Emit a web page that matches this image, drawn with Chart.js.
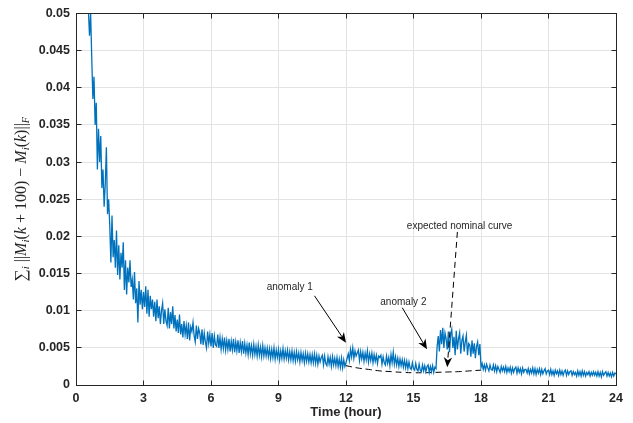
<!DOCTYPE html>
<html>
<head>
<meta charset="utf-8">
<script src="https://cdn.jsdelivr.net/npm/chart.js@4.4.1/dist/chart.umd.min.js"></script>
<style>
  body { margin: 0; background: #fff; }
</style>
</head>
<body>
<canvas id="chart" width="633" height="423"></canvas>
<script>
// sampling of the measured curve (hours)
const startHour = 0.5;
const stepHour = 0.05;

// measured sum of Frobenius differences, in units of 1e-4, one row per hour
const seriesValues = [
  560,505,470,500,440,385,415,350,380,290,345,300,335,265,290,240,270,320,230,250,
  215,165,228,172,195,158,208,148,188,142,178,158,192,128,168,122,158,138,168,132,
  142,115,152,110,130,84,140,108,128,102,125,105,133,96,128,92,120,102,115,92,
  112,86,115,90,106,82,100,110,82,102,86,80,104,76,98,82,106,76,94,72,
  88,70,95,68,82,64,86,68,80,62,84,60,78,72,84,66,58,80,62,76,
  70,55,75,54,70,58,50,72,56,68,52,70,50,66,54,52,68,50,64,48,
  62,49,64,47,60,48,62,45,59,47,62,44,58,46,60,43,57,45,59,42,
  56,43,54,41,57,42,53,40,55,41,52,39,54,40,51,38,53,39,50,39,
  50,38,49,36,48,37,50,35,47,37,48,34,46,36,49,35,46,36,47,34,
  45,34,46,33,44,32,45,34,43,31,44,33,42,30,43,32,42,31,41,30,
  41,30,42,29,40,28,39,31,37,40,27,39,29,26,38,28,37,25,38,27,
  36,26,37,25,35,24,36,23,34,25,30,36,42,33,48,38,50,36,46,39,
  43,47,33,45,35,44,32,43,34,46,31,42,33,43,30,41,32,40,29,39,
  37,40,28,38,30,27,39,29,37,26,41,30,44,28,38,27,36,25,35,26,
  34,24,33,23,32,22,31,23,21,30,22,20,29,21,19,28,20,18,27,19,
  26,18,25,27,17,25,18,26,17,24,22,52,66,45,74,55,77,50,70,62,
  48,72,44,68,75,50,65,40,73,48,62,70,42,60,66,45,58,67,40,56,
  54,38,60,42,56,36,52,58,40,55,
  24,29,21,27,20,28,23,19,27,21,20,27,19,26,18,25,21,17,25,19,
  24,18,25,17,23,18,24,16,23,17,22,24,16,23,17,22,15,23,17,21,
  21,16,22,15,21,16,23,15,22,14,21,16,22,14,21,15,19,22,15,19,
  20,14,21,14,19,13,20,15,19,13,20,14,19,13,18,20,13,19,14,18,
  19,13,18,14,17,12,19,13,18,12,19,13,18,12,17,14,18,12,17,13,
  18,13,17,12,18,12,17,11,18,13,16,18,12,17,12,16,11,17,12,16,15
];

// expected nominal curve (dashed)
const nominalHours = [12, 12.5, 13, 13.5, 14, 14.5, 15, 15.5, 16, 16.5, 17, 17.5, 18];
const nominalValues = [0.0026, 0.0023, 0.0021, 0.0019, 0.0018, 0.0017, 0.00165, 0.00165, 0.0017, 0.00175, 0.0018, 0.0019, 0.002];

const xTickValues = [0, 3, 6, 9, 12, 15, 18, 21, 24];
const xTickLabels = ['0', '3', '6', '9', '12', '15', '18', '21', '24'];
const yTickValues = [0, 0.005, 0.01, 0.015, 0.02, 0.025, 0.03, 0.035, 0.04, 0.045, 0.05];
const yTickLabels = ['0', '0.005', '0.01', '0.015', '0.02', '0.025', '0.03', '0.035', '0.04', '0.045', '0.05'];

// text arrows: label position, arrow tail, arrow tip (data coords)
const annotations = [
  { text: 'anomaly 1', at: [9.5, 0.0131], from: [10.6, 0.012], to: [12.0, 0.0057], dashed: false },
  { text: 'anomaly 2', at: [14.55, 0.0111], from: [14.5, 0.0104], to: [15.6, 0.0048], dashed: false },
  { text: 'expected nominal curve', at: [17.05, 0.0213], from: [16.95, 0.0206], to: [16.5, 0.0024], dashed: true }
];

const axisColor = '#262626';
const tickFont = { family: 'Liberation Sans, Arial, sans-serif', size: 12.5, weight: 'bold' };

const points = seriesValues.map((v, i) => ({ x: startHour + i * stepHour, y: v / 10000 }));
const nominalPoints = nominalHours.map((h, i) => ({ x: h, y: nominalValues[i] }));

const align = (p) => Math.round(p - 0.5) + 0.5;

// arrow with a notched head
const drawArrow = (ctx, x1, y1, x2, y2, dashed) => {
  const len = 10, half = 4.2;
  const ang = Math.atan2(y2 - y1, x2 - x1);
  const cos = Math.cos(ang), sin = Math.sin(ang);
  const nx = x2 - 0.7 * len * cos, ny = y2 - 0.7 * len * sin;
  ctx.save();
  ctx.strokeStyle = '#000';
  ctx.fillStyle = '#000';
  ctx.lineWidth = 1;
  ctx.setLineDash(dashed ? [6, 4] : []);
  ctx.beginPath();
  ctx.moveTo(x1, y1);
  ctx.lineTo(nx, ny);
  ctx.stroke();
  ctx.setLineDash([]);
  ctx.beginPath();
  ctx.moveTo(x2, y2);
  ctx.lineTo(x2 - len * cos + half * sin, y2 - len * sin - half * cos);
  ctx.lineTo(nx, ny);
  ctx.lineTo(x2 - len * cos - half * sin, y2 - len * sin + half * cos);
  ctx.closePath();
  ctx.fill();
  ctx.restore();
};

const framePlugin = {
  id: 'frame',
  afterDatasetsDraw(chart) {
    const { ctx, chartArea: a, scales: { x, y } } = chart;
    const l = align(a.left), r = align(a.right), t = align(a.top), b = align(a.bottom);
    ctx.save();
    ctx.strokeStyle = axisColor;
    ctx.lineWidth = 1;
    ctx.strokeRect(l, t, r - l, b - t);
    ctx.beginPath();
    xTickValues.forEach((v) => {
      const px = align(x.getPixelForValue(v));
      ctx.moveTo(px, b); ctx.lineTo(px, b - 5);
      ctx.moveTo(px, t); ctx.lineTo(px, t + 5);
    });
    yTickValues.forEach((v) => {
      const py = align(y.getPixelForValue(v));
      ctx.moveTo(l, py); ctx.lineTo(l + 5, py);
      ctx.moveTo(r, py); ctx.lineTo(r - 5, py);
    });
    ctx.stroke();

    // annotations
    ctx.font = '10px Liberation Sans, Arial, sans-serif';
    ctx.fillStyle = axisColor;
    ctx.textAlign = 'center';
    ctx.textBaseline = 'middle';
    annotations.forEach((an) => {
      ctx.fillText(an.text, x.getPixelForValue(an.at[0]), y.getPixelForValue(an.at[1]));
      drawArrow(ctx,
        x.getPixelForValue(an.from[0]), y.getPixelForValue(an.from[1]),
        x.getPixelForValue(an.to[0]), y.getPixelForValue(an.to[1]), an.dashed);
    });
    ctx.restore();
  },
  afterDraw(chart) {
    // y axis title with sub scripts
    const { ctx, chartArea: a } = chart;
    const serif = 'Liberation Serif, DejaVu Serif, serif';
    const parts = [
      { t: '\u2211', f: `17px ${serif}` },
      { t: 'i', f: `italic 11px ${serif}`, sub: true },
      { t: ' ||', f: `16px ${serif}` },
      { t: 'M', f: `italic 16px ${serif}` },
      { t: 'i', f: `italic 11px ${serif}`, sub: true },
      { t: '(', f: `16px ${serif}` },
      { t: 'k', f: `italic 16px ${serif}` },
      { t: ' + 100) \u2212 ', f: `16px ${serif}` },
      { t: 'M', f: `italic 16px ${serif}` },
      { t: 'i', f: `italic 11px ${serif}`, sub: true },
      { t: '(', f: `16px ${serif}` },
      { t: 'k', f: `italic 16px ${serif}` },
      { t: ')||', f: `16px ${serif}` },
      { t: 'F', f: `italic 10px ${serif}`, sub: true }
    ];
    ctx.save();
    let total = 0;
    parts.forEach((p) => { ctx.font = p.f; p.w = ctx.measureText(p.t).width; total += p.w; });
    ctx.translate(21, (a.top + a.bottom) / 2);
    ctx.rotate(-Math.PI / 2);
    ctx.fillStyle = axisColor;
    ctx.textBaseline = 'alphabetic';
    ctx.textAlign = 'left';
    let cx = -total / 2;
    parts.forEach((p) => {
      ctx.font = p.f;
      ctx.fillText(p.t, cx, p.sub ? 8 : 5);
      cx += p.w;
    });
    ctx.restore();
  }
};

const chartDOM = document.querySelector('#chart');
const chart = new Chart(chartDOM, {
  type: 'line',
  data: {
    datasets: [
      {
        data: points,
        borderColor: '#0072BD',
        borderWidth: 1.3,
        pointRadius: 0,
        tension: 0
      },
      {
        data: nominalPoints,
        borderColor: '#000',
        borderWidth: 1,
        borderDash: [6, 4],
        pointRadius: 0,
        tension: 0.4
      }
    ]
  },
  options: {
    responsive: false,
    animation: false,
    devicePixelRatio: 1,
    layout: { padding: { top: 10, right: 17, left: 0, bottom: 0 } },
    plugins: { legend: { display: false }, tooltip: { enabled: false } },
    scales: {
      x: {
        type: 'linear',
        min: 0,
        max: 24,
        afterBuildTicks: (s) => { s.ticks = xTickValues.map((v) => ({ value: v })); },
        afterFit: (s) => { s.height = 38; },
        ticks: {
          padding: 6,
          maxRotation: 0,
          color: axisColor,
          font: tickFont,
          callback: (v, i) => xTickLabels[i]
        },
        grid: { color: '#e3e3e3', drawTicks: false },
        border: { display: false },
        title: {
          display: true,
          text: 'Time (hour)',
          color: axisColor,
          font: { family: 'Liberation Sans, Arial, sans-serif', size: 13, weight: 'bold' },
          padding: { top: 0, bottom: 3 }
        }
      },
      y: {
        min: 0,
        max: 0.05,
        afterBuildTicks: (s) => { s.ticks = yTickValues.map((v) => ({ value: v })); },
        afterFit: (s) => { s.width = 76; },
        ticks: {
          padding: 6,
          color: axisColor,
          font: tickFont,
          callback: (v, i) => yTickLabels[i]
        },
        grid: { color: '#e3e3e3', drawTicks: false },
        border: { display: false }
      }
    }
  },
  plugins: [framePlugin]
});
</script>
</body>
</html>
